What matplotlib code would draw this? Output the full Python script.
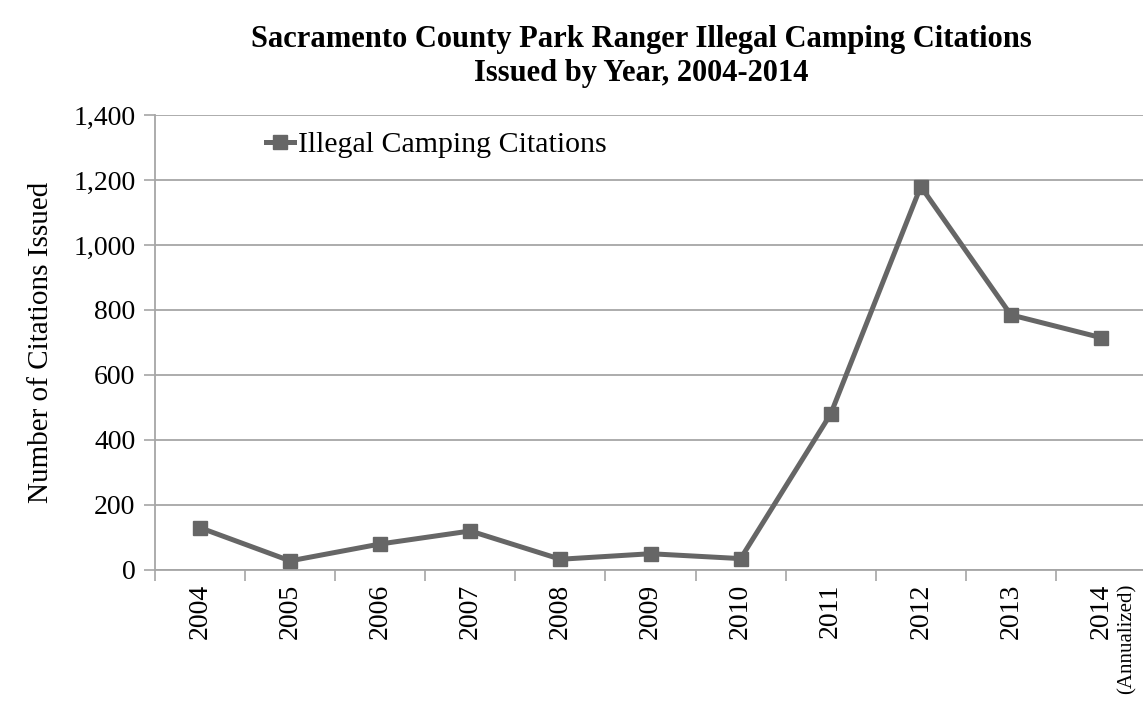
import matplotlib
matplotlib.use("Agg")
import matplotlib.pyplot as plt
import numpy as np

years = ["2004", "2005", "2006", "2007", "2008", "2009", "2010", "2011", "2012", "2013", "2014"]
citations = [130, 28, 80, 120, 33, 50, 35, 480, 1180, 785, 715]
series_name = "Illegal Camping Citations"
title = "Sacramento County Park Ranger Illegal Camping Citations\nIssued by Year, 2004-2014"
ylabel = "Number of Citations Issued"
yticks = [0, 200, 400, 600, 800, 1000, 1200, 1400]

plt.rcParams['font.family'] = ['Liberation Serif', 'DejaVu Serif']

fig = plt.figure(figsize=(11.43, 7.13), dpi=100)
ax = fig.add_axes([155 / 1143, 0.2006, 991 / 1143, 0.6381])

x = np.arange(len(years))
line_color = "#666666"
grid_color = "#a6a6a6"
ax.plot(x, citations, color=line_color, lw=3.6, marker='s', markersize=10.5,
        markerfacecolor=line_color, markeredgecolor=line_color, label=series_name,
        solid_joinstyle='round', zorder=3, clip_on=False)

ax.set_xlim(-0.5, len(years) - 0.5)
ax.set_ylim(0, 1400)
ax.set_yticks(yticks)
ax.set_yticklabels([f"{v:,}" for v in yticks], fontsize=20)
ax.yaxis.grid(True, color=grid_color, lw=1.3)
ax.set_axisbelow(True)

ax.set_xticks(np.arange(-0.5, len(years) + 0.5, 1.0))
ax.set_xticklabels([])
ax.set_xticks(x, minor=True)
ax.set_xticklabels(years, minor=True, rotation=90, fontsize=20)
ax.tick_params(axis='x', which='major', length=8, width=1.2, color=grid_color, direction='out')
ax.tick_params(axis='x', which='minor', length=0, pad=10)
ax.tick_params(axis='y', length=8, width=1.2, color=grid_color, direction='out', pad=6)

for s in ['top', 'right']:
    ax.spines[s].set_visible(False)
for s in ['left', 'bottom']:
    ax.spines[s].set_color(grid_color)
    ax.spines[s].set_linewidth(1.3)

ax.annotate("(Annualized)", xy=(x[-1], 0), xycoords=('data', 'axes fraction'),
            xytext=(19, -10), textcoords='offset points', rotation=90,
            ha='center', va='top', fontsize=15)

ax.set_ylabel(ylabel, fontsize=21, labelpad=14)
fig.suptitle(title, x=0.561, fontsize=22, fontweight='bold', y=0.965, linespacing=1.22)

leg = ax.legend(loc='upper left', bbox_to_anchor=(0.1, 0.99), frameon=False,
                fontsize=21.5, handlelength=0.95, handletextpad=0.12, borderaxespad=0)

fig.savefig("out.png", dpi=100)
